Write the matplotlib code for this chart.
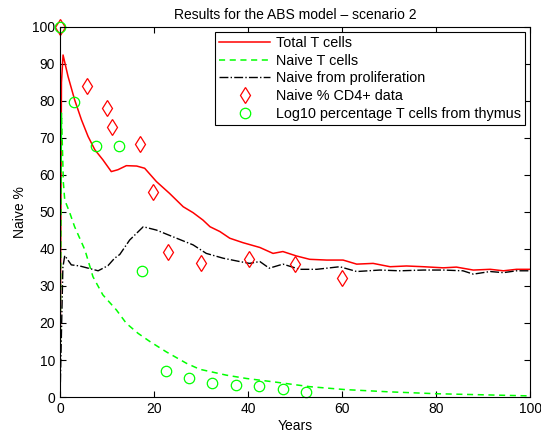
import numpy as np
import matplotlib
matplotlib.use("Agg")
import matplotlib.pyplot as plt

plt.rcParams['font.family'] = ['Liberation Sans', 'DejaVu Sans']

# total T cells (red)
total_x = [0, 0.3, 0.64, 1.7, 3.1, 4.55, 5.96, 7.4, 9.1, 10.9, 12.3, 14.1, 16.3, 18, 20.5, 23.3,
           26.2, 28.3, 30.4, 31.9, 34, 36.1, 38.9, 42.5, 45.3, 47.4, 50.3, 53.1, 56.7, 60.2, 63.1,
           66.6, 70.2, 73.7, 77.3, 81.5, 84.3, 87.9, 91.5, 94.3, 97.1, 100]
total_y = [0, 85, 92.4, 86.6, 80.3, 74.9, 70.4, 66.8, 64.1, 60.9, 61.4, 62.5, 62.4, 61.8, 58.2, 55,
           51.4, 49.8, 47.8, 46, 44.7, 42.9, 41.7, 40.4, 38.8, 39.3, 38.1, 37.2, 37.0, 37.0, 35.9,
           36.1, 35.2, 35.4, 35.2, 34.9, 35.1, 34.3, 34.5, 34.1, 34.5, 34.5]

# naive T cells (green dashed)
naive_x = [0, 0.3, 0.7, 1.0, 2.0, 3.1, 5.3, 7.0, 9.1, 12, 14.1, 16.6, 19.1, 22.6, 26.9, 29.7,
           35.4, 39.7, 46, 53.1, 60.7, 70, 79.8, 90, 100]
naive_y = [0, 76.7, 58, 53.2, 50, 46, 39.7, 32.5, 27.6, 23.5, 19.9, 17.2, 15, 12.2, 9.1, 7.5,
           5.9, 5.0, 4.0, 2.8, 2.0, 1.4, 0.9, 0.6, 0.3]

# naive from proliferation (black dash-dot)
prolif_x = [0, 0.6, 1.0, 2.4, 4.2, 6, 8.1, 10.2, 11.6, 12.7, 14.8, 17.7, 20.5, 24, 28.3, 31.1,
            34.7, 38.2, 40.3, 42.5, 44.5, 47.4, 51, 54.6, 59.5, 63.1, 68, 72.3, 77.3, 81.5, 85.7,
            87.9, 91.5, 94.3, 97.1, 100]
prolif_y = [0, 35, 38.2, 35.7, 35.4, 34.8, 34.1, 35.5, 37.5, 38.5, 42.4, 46, 45.1, 43.3, 41.1, 38.8,
            37.5, 36.6, 36.1, 36.6, 34.8, 35.9, 34.5, 34.5, 35.2, 33.9, 34.3, 34.1, 34.3, 34.3, 34.1,
            33.2, 33.9, 33.6, 34.1, 34.1]

# Naive % CD4+ data (diamonds)
cd4_x = [0, 5.7, 10, 11.1, 17, 19.8, 22.9, 30, 40.1, 50, 59.9]
cd4_y = [100, 84, 78, 73, 68.4, 55.4, 39.1, 36.1, 37.3, 35.9, 32.1]

# Log10 percentage T cells from thymus (circles)
thy_x = [0, 3, 7.6, 12.5, 17.5, 22.5, 27.4, 32.4, 37.5, 42.4, 47.4, 52.4]
thy_y = [100, 79.7, 67.7, 67.7, 34, 7.1, 5.2, 3.8, 3.3, 3.1, 2.2, 1.4]

fig = plt.figure(figsize=(5.41, 4.36), dpi=100)
ax = fig.add_axes([0.111, 0.0894, 0.869, 0.849])

ax.plot(total_x, total_y, '-', color='red', lw=1.1, label='Total T cells')
ax.plot(naive_x, naive_y, '--', color='#00ff00', lw=1.1, dashes=(4, 3), label='Naive T cells')
ax.plot(prolif_x, prolif_y, '-.', color='black', lw=1.0, label='Naive from proliferation')
ax.plot(cd4_x, cd4_y, 'd', color='red', mfc='none', ms=8, mew=0.9, clip_on=False,
        label='Naive % CD4+ data')
ax.plot(thy_x, thy_y, 'o', color='#00ff00', mfc='none', ms=7.5, mew=0.9, clip_on=False,
        label='Log10 percentage T cells from thymus')

ax.set_xlim(0, 100)
ax.set_ylim(0, 100)
ax.set_xticks(np.arange(0, 101, 20))
ax.set_yticks(np.arange(0, 101, 10))
ax.tick_params(direction='in', top=True, right=True, labelsize=10, length=4)
ax.set_xlabel('Years', fontsize=10, labelpad=2)
ax.set_ylabel('Naive %', fontsize=10)
ax.set_title('Results for the ABS model \u2013 scenario 2', fontsize=10, pad=6)

leg = ax.legend(loc='upper right', fontsize=10.4, handlelength=3.5, borderaxespad=0.35,
                fancybox=False, framealpha=1, edgecolor='black', labelspacing=0.25,
                handletextpad=0.4, borderpad=0.3)
leg.get_frame().set_linewidth(0.8)

fig.savefig('out.png', dpi=100)
